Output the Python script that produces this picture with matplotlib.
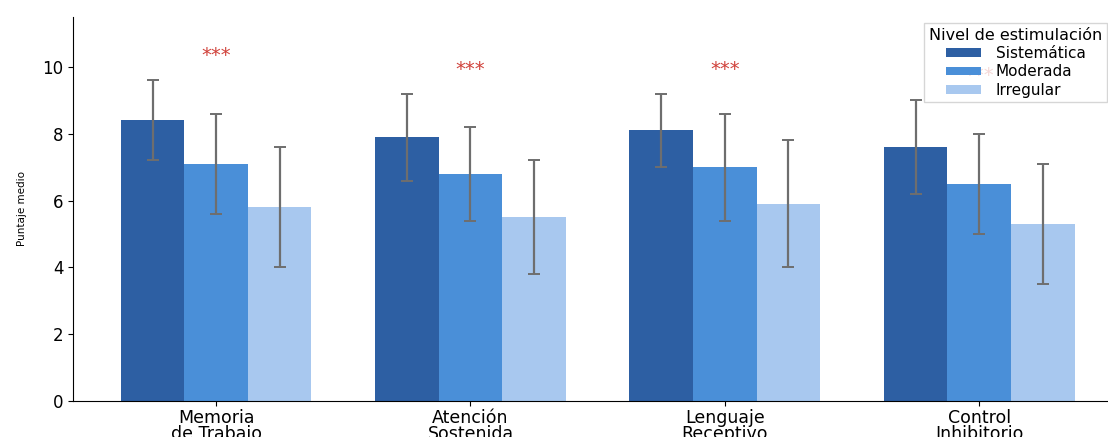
import matplotlib

matplotlib.use("Agg")

import matplotlib.pyplot as plt
import numpy as np

# Mean scores and SDs per cognitive domain, for each stimulation level
domains = ["Memoria\nde Trabajo", "Atención\nSostenida", "Lenguaje\nReceptivo", "Control\nInhibitorio"]
levels = ["Sistemática", "Moderada", "Irregular"]
sistematica_mean = [8.4, 7.9, 8.1, 7.6]
sistematica_sd = [1.2, 1.3, 1.1, 1.4]
moderada_mean = [7.1, 6.8, 7.0, 6.5]
moderada_sd = [1.5, 1.4, 1.6, 1.5]
irregular_mean = [5.8, 5.5, 5.9, 5.3]
irregular_sd = [1.8, 1.7, 1.9, 1.8]
significance = ["***", "***", "***", "***"]

colors = ["#2d5fa3", "#4a8fd8", "#a8c8ef"]


def main() -> None:
    fig = plt.figure(figsize=(11.08, 4.37), dpi=100)
    ax = fig.add_axes([0.0659, 0.0824, 0.947, 0.879])

    x = np.arange(len(domains))
    width = 0.25
    means = [sistematica_mean, moderada_mean, irregular_mean]
    sds = [sistematica_sd, moderada_sd, irregular_sd]

    for i, (level, m, s) in enumerate(zip(levels, means, sds)):
        ax.bar(
            x + (i - 1) * width,
            m,
            width=width,
            color=colors[i],
            label=level,
            yerr=s,
            capsize=4,
            error_kw={"ecolor": "#6e6e6e", "elinewidth": 1.6, "capthick": 1.4},
        )

    # significance markers above the tallest error bar of each group
    tops = np.max(np.array(means) + np.array(sds), axis=0)
    for xi, top, mark in zip(x, tops, significance):
        ax.text(xi, top + 0.45, mark, ha="center", va="bottom", color="#d0413a", fontsize=14)

    ax.set_xlim(-0.5625, 3.5625)
    ax.set_ylim(0, 11.5)
    ax.set_xticks(x)
    ax.set_xticklabels(domains, fontsize=12.5, linespacing=0.86)
    ax.tick_params(axis="x", pad=2)
    ax.set_ylabel("Puntaje medio", fontsize=7.5, labelpad=11)
    ax.tick_params(axis="y", labelsize=12)
    ax.spines["top"].set_visible(False)
    ax.spines["right"].set_visible(False)

    leg = ax.legend(
        title="Nivel de estimulación",
        loc="upper right",
        bbox_to_anchor=(0.999, 0.947),
        bbox_transform=fig.transFigure,
        borderaxespad=0,
        fontsize=11,
        title_fontsize=11.5,
        labelspacing=0.22,
        borderpad=0.3,
        handlelength=2.3,
        handleheight=0.5,
        handletextpad=1.0,
        framealpha=0.8,
        fancybox=False,
    )
    leg.get_frame().set_edgecolor("#cccccc")

    fig.savefig("out.png", dpi=100)
    plt.close(fig)


if __name__ == "__main__":
    main()
